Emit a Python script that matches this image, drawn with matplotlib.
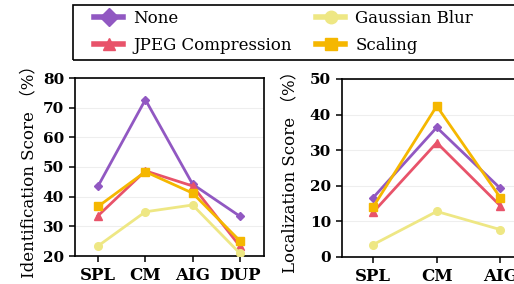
import matplotlib
matplotlib.use("Agg")
import matplotlib.pyplot as plt
from matplotlib.lines import Line2D
from matplotlib.patches import Rectangle

plt.rcParams['font.family'] = ['DejaVu Serif', 'Noto Sans CJK SC']

id_cats = ["SPL", "CM", "AIG", "DUP"]
loc_cats = ["SPL", "CM", "AIG"]
series = ["None", "JPEG Compression", "Gaussian Blur", "Scaling"]

id_none = [43.6, 72.7, 44.2, 33.4]
id_jpeg = [33.6, 48.7, 43.6, 23.3]
id_gauss = [23.4, 34.9, 37.2, 20.9]
id_scale = [36.7, 48.4, 41.2, 25.1]

loc_none = [16.7, 36.4, 19.3]
loc_jpeg = [12.6, 32.1, 14.4]
loc_gauss = [3.5, 12.8, 7.7]
loc_scale = [14.1, 42.4, 16.7]

colors = ["#9158c2", "#e8536a", "#eee784", "#f5b700"]
markers = ["D", "^", "o", "s"]
msizes = [4.5, 5.5, 5.5, 5.5]

W, H = 514, 284
fig = plt.figure(figsize=(W / 100, H / 100), dpi=100)

def px_axes(x0, x1, y0, y1):
    return fig.add_axes([x0 / W, 1 - y1 / H, (x1 - x0) / W, (y1 - y0) / H])

ax1 = px_axes(74.5, 263.5, 78, 256)
ax2 = px_axes(341.5, 532, 79, 257)

def style(ax, cats, data, ylim, yticks, ylabel, lpad):
    x = list(range(len(cats)))
    for vals, c, m, ms in zip(data, colors, markers, msizes):
        ax.plot(x, vals, color=c, marker=m, markersize=ms, linewidth=2, zorder=3)
    ax.set_xlim(-0.5, len(cats) - 0.5)
    ax.set_ylim(*ylim)
    ax.set_yticks(yticks)
    ax.set_xticks(x)
    ax.set_xticklabels(cats, fontsize=12, fontweight='bold')
    for t in ax.get_yticklabels():
        t.set_fontweight('bold')
    ax.tick_params(axis='y', labelsize=11, length=4.5, width=1.1, pad=3)
    ax.tick_params(axis='x', length=4.5, width=1.1)
    ax.yaxis.grid(True, color="#eeeeee", linewidth=0.8)
    ax.set_axisbelow(True)
    for s in ax.spines.values():
        s.set_linewidth(1.2)
    ax.set_ylabel(ylabel, fontsize=12, labelpad=lpad)

style(ax1, id_cats, [id_none, id_jpeg, id_gauss, id_scale], (20, 80),
      [20, 30, 40, 50, 60, 70, 80], "Identification Score （%）", 4)
style(ax2, loc_cats, [loc_none, loc_jpeg, loc_gauss, loc_scale], (0, 50),
      [0, 10, 20, 30, 40, 50], "Localization Score （%）", 8)

handles = [Line2D([0], [0], color=c, marker=m, markersize=9, linewidth=4)
           for c, m in zip(colors, markers)]
leg = fig.legend(handles, series,
                 loc='upper left', bbox_to_anchor=(90 / W, 1 - 6 / H),
                 ncol=2, fontsize=12, frameon=False,
                 handlelength=1.75, borderaxespad=0, borderpad=0.25,
                 handletextpad=0.6, labelspacing=0.6, columnspacing=1.45)

fig.add_artist(Rectangle((73 / W, 1 - 60 / H), 470 / W, 55 / H,
                         transform=fig.transFigure, fill=False,
                         edgecolor='black', linewidth=1.2))

fig.savefig("out.png", dpi=100)
